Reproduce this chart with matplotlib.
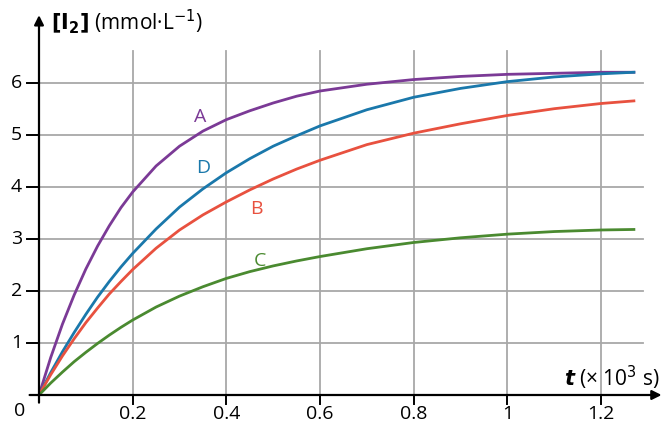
import matplotlib.pyplot as plt

plt.rcParams['font.family'] = ['Open Sans', 'DejaVu Sans']

# time in 10^3 s, [I2] in mmol/L
t = [0, 0.025, 0.05, 0.075, 0.1, 0.125, 0.15, 0.175, 0.2, 0.25, 0.3, 0.35, 0.4,
     0.45, 0.5, 0.55, 0.6, 0.7, 0.8, 0.9, 1.0, 1.1, 1.2, 1.27]
conc_A = [0, 0.72, 1.36, 1.92, 2.42, 2.86, 3.25, 3.6, 3.9, 4.4, 4.78, 5.07, 5.29,
          5.46, 5.61, 5.74, 5.84, 5.97, 6.06, 6.12, 6.16, 6.18, 6.2, 6.2]
conc_D = [0, 0.43, 0.83, 1.2, 1.55, 1.88, 2.18, 2.46, 2.72, 3.19, 3.61, 3.96, 4.27,
          4.54, 4.78, 4.98, 5.17, 5.48, 5.72, 5.89, 6.02, 6.11, 6.17, 6.2]
conc_B = [0, 0.39, 0.75, 1.08, 1.39, 1.67, 1.94, 2.18, 2.41, 2.82, 3.17, 3.46, 3.71,
          3.94, 4.15, 4.34, 4.51, 4.81, 5.03, 5.21, 5.37, 5.5, 5.6, 5.65]
conc_C = [0, 0.23, 0.44, 0.64, 0.82, 0.99, 1.15, 1.3, 1.44, 1.69, 1.9, 2.08, 2.24,
          2.37, 2.48, 2.575, 2.66, 2.81, 2.93, 3.02, 3.09, 3.14, 3.17, 3.18]

names = ["A", "D", "B", "C"]
series = [conc_A, conc_D, conc_B, conc_C]
colors = ["#7b3a96", "#1a78ab", "#e8513f", "#4a8a30"]
label_pos = [(0.344, 5.34), (0.35, 4.36), (0.465, 3.58), (0.472, 2.58)]

xticks = [0.2, 0.4, 0.6, 0.8, 1, 1.2]
xtick_labels = ["0.2", "0.4", "0.6", "0.8", "1", "1.2"]
yticks = [1, 2, 3, 4, 5, 6]

fig = plt.figure(figsize=(6.63, 4.24), dpi=100)
ax = fig.add_axes([39 / 663, 29 / 424, 623 / 663, 380 / 424])
ax.set_xlim(0, 1.33)
ax.set_ylim(0, 7.3)
ax.axis('off')

# grid
for x in xticks:
    ax.plot([x, x], [0, 6.6], color="#a8a8a8", lw=1.3, zorder=1)
for y in yticks:
    ax.plot([0, 1.29], [y, y], color="#a8a8a8", lw=1.3, zorder=1)

# curves
for name, vals, c, (lx, ly) in zip(names, series, colors, label_pos):
    ax.plot(t, vals, color=c, lw=2, zorder=3, solid_joinstyle="round")
    ax.text(lx, ly, name, color=c, fontsize=14, ha="center", va="center", zorder=4)

# axes with arrows
ax.annotate("", xy=(1.335, 0), xytext=(-0.026, 0),
            arrowprops=dict(arrowstyle="-|>", color="black", lw=1.6, mutation_scale=14),
            annotation_clip=False)
ax.annotate("", xy=(0, 7.35), xytext=(0, -0.2),
            arrowprops=dict(arrowstyle="-|>", color="black", lw=1.6, mutation_scale=14),
            annotation_clip=False)

# ticks
for x, lab in zip(xticks, xtick_labels):
    ax.plot([x, x], [0, -0.17], color="black", lw=1.4, clip_on=False)
    ax.text(x, -0.53, lab, fontsize=14, ha="center", va="bottom", clip_on=False)
for y in yticks:
    ax.plot([-0.026, 0], [y, y], color="black", lw=1.4, clip_on=False)
    ax.text(-0.036, y, str(y), fontsize=14, ha="right", va="center", clip_on=False)
ax.text(-0.03, -0.3, "0", fontsize=14, ha="right", va="center", clip_on=False)

ax.text(0.025, 7.18, r"$\mathbf{[I_2]}$ (mmol·L$^{-1}$)", fontsize=15, ha="left", va="center",
        clip_on=False)
ax.text(1.325, 0.33, r"$\boldsymbol{t}$ (× 10$^3$ s)", fontsize=15, ha="right", va="center",
        clip_on=False)

fig.savefig("out.png", dpi=100)
